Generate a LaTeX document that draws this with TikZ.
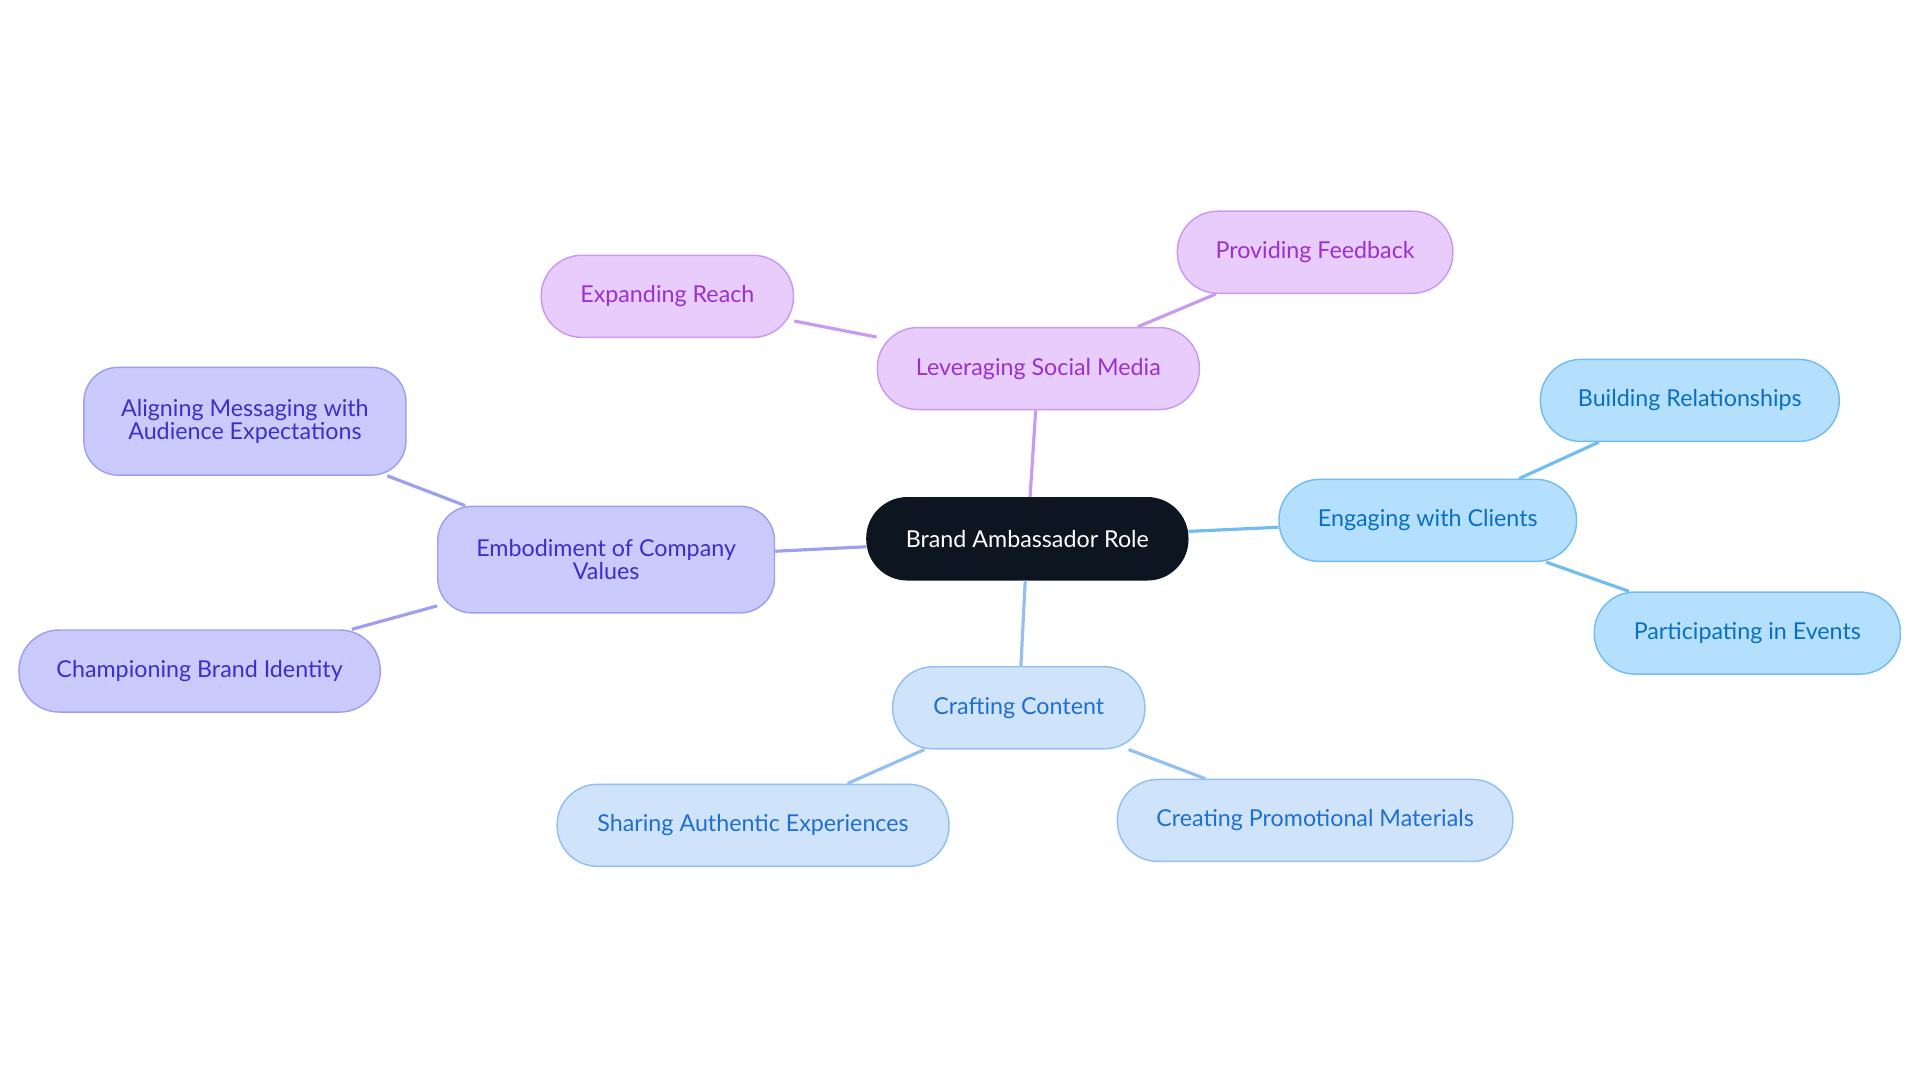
\documentclass[tikz,border=0pt]{standalone}
\usepackage{fontspec}
\setmainfont{Lato}
\definecolor{pf}{HTML}{E8CCFB}\definecolor{pd}{HTML}{C99AF0}\definecolor{pt}{HTML}{9B30D0}
\definecolor{bf}{HTML}{CFE3FB}\definecolor{bd}{HTML}{93C0F0}\definecolor{bt}{HTML}{1F6FD0}
\definecolor{sf}{HTML}{B5E0FD}\definecolor{sd}{HTML}{72BDF0}\definecolor{st}{HTML}{0A6FC0}
\definecolor{if}{HTML}{CACAFD}\definecolor{id}{HTML}{9F9FF0}\definecolor{it}{HTML}{3A2FC8}
\definecolor{cf}{HTML}{0D1520}
\begin{document}
\begin{tikzpicture}[x=0.5pt,y=-0.5pt,
  box/.style={rounded corners=16.5pt,minimum height=33.5pt,inner sep=0pt,align=center,font=\fontsize{9.5}{9.5}\selectfont,line width=0.6pt},
  pur/.style={box,fill=pf,draw=pd,text=pt},
  blu/.style={box,fill=bf,draw=bd,text=bt},
  sky/.style={box,fill=sf,draw=sd,text=st},
  ind/.style={box,fill=if,draw=id,text=it},
  ln/.style={line width=1.3pt}]
\useasboundingbox (0,0) rectangle (1568,884);
\node[box,fill=cf,draw=cf,text=white,minimum width=131pt] (c) at (839,440) {Brand Ambassador Role};
\node[pur,minimum width=131.5pt] (l) at (848,301) {Leveraging Social Media};
\node[pur,minimum width=103pt] (er) at (545,242) {Expanding Reach};
\node[pur,minimum width=112.5pt] (pfb) at (1074,206) {Providing Feedback};
\node[sky,minimum width=121.5pt] (e) at (1166,425) {Engaging with Clients};
\node[sky,minimum width=122pt] (br) at (1380,327) {Building Relationships};
\node[sky,minimum width=125pt] (pe) at (1427,517) {Participating in Events};
\node[blu,minimum width=103pt] (cc) at (832,578) {Crafting Content};
\node[blu,minimum width=160pt] (sa) at (615,674) {Sharing Authentic Experiences};
\node[blu,minimum width=161.5pt] (cp) at (1074,670) {Creating Promotional Materials};
\node[ind,minimum width=137.5pt,minimum height=43.5pt,rounded corners=14pt] (ev) at (495,457) {Embodiment of Company\\Values};
\node[ind,minimum width=131.5pt,minimum height=44pt,rounded corners=14pt] (am) at (200,344) {Aligning Messaging with\\Audience Expectations};
\node[ind,minimum width=147.5pt] (cb) at (163,548) {Championing Brand Identity};
\begin{scope}[on background layer/.style={}]
\end{scope}
\draw[ln,draw=pd] (c) -- (l); \draw[ln,draw=pd] (l) -- (er); \draw[ln,draw=pd] (l) -- (pfb);
\draw[ln,draw=sd] (c) -- (e); \draw[ln,draw=sd] (e) -- (br); \draw[ln,draw=sd] (e) -- (pe);
\draw[ln,draw=bd] (c) -- (cc); \draw[ln,draw=bd] (cc) -- (sa); \draw[ln,draw=bd] (cc) -- (cp);
\draw[ln,draw=id] (c) -- (ev); \draw[ln,draw=id] (ev) -- (am); \draw[ln,draw=id] (ev) -- (cb);
\end{tikzpicture}
\end{document}
